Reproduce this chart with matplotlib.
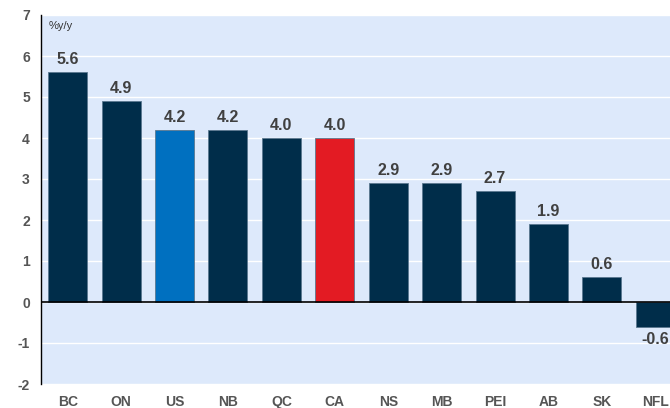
import matplotlib
matplotlib.use("Agg")
import matplotlib.pyplot as plt

categories = ["BC", "ON", "US", "NB", "QC", "CA", "NS", "MB", "PEI", "AB", "SK", "NFL"]
values = [5.6, 4.9, 4.2, 4.2, 4.0, 4.0, 2.9, 2.9, 2.7, 1.9, 0.6, -0.6]
labels = ["5.6", "4.9", "4.2", "4.2", "4.0", "4.0", "2.9", "2.9", "2.7", "1.9", "0.6", "-0.6"]
y_ticks = [-2, -1, 0, 1, 2, 3, 4, 5, 6, 7]

plt.rcParams['font.family'] = ['Liberation Sans', 'DejaVu Sans']

navy = "#002d4a"
colors = [navy] * len(categories)
colors[categories.index("US")] = "#0070c0"
colors[categories.index("CA")] = "#e31b23"

fig = plt.figure(figsize=(6.7, 4.08), dpi=100)
ax = fig.add_axes([41/670, 24/408, 641/670, 369/408])
ax.set_facecolor("#dde9fb")
fig.patch.set_facecolor("white")

x = list(range(len(categories)))
ax.bar(x, values, width=0.73, color=colors, edgecolor="#5a7890", linewidth=0.6, zorder=3)

for xi, v, lab in zip(x, values, labels):
    if v >= 0:
        ax.text(xi, v + 0.12, lab, ha="center", va="bottom", fontsize=11.5, fontweight="bold", color="#404040", zorder=4)
    else:
        ax.text(xi, v - 0.12, lab, ha="center", va="top", fontsize=11.5, fontweight="bold", color="#404040", zorder=4)

ax.set_xlim(-0.5, len(categories) - 0.5)
ax.set_ylim(-2, 7)
ax.set_yticks(y_ticks)
ax.set_yticklabels([str(t) for t in y_ticks])
ax.set_xticks(x)
ax.set_xticklabels(categories)
ax.yaxis.grid(True, color="white", linewidth=1, zorder=0)
ax.set_axisbelow(True)
ax.axhline(0, color="black", linewidth=1.2, zorder=5)

for s in ["top", "right", "bottom"]:
    ax.spines[s].set_visible(False)
ax.spines["left"].set_color("black")
ax.spines["left"].set_linewidth(1)

ax.tick_params(axis="both", length=0, labelsize=10, labelcolor="#555555")
ax.tick_params(axis="y", pad=8)
ax.tick_params(axis="x", pad=8)
for t in ax.get_xticklabels() + ax.get_yticklabels():
    t.set_fontweight("bold")

ax.text(0.012, 0.985, "%y/y", transform=ax.transAxes, ha="left", va="top", fontsize=8, color="#333333")

fig.savefig("out.png", dpi=100)
